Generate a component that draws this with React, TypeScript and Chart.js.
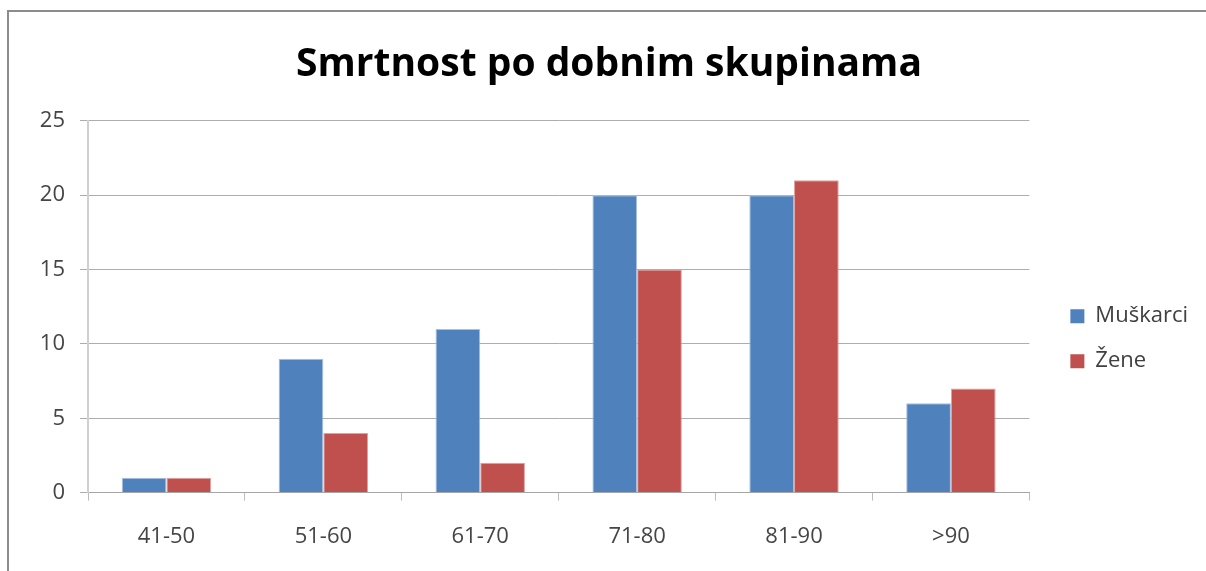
import React, { useEffect, useRef } from "react";
import { Chart, registerables, layouts } from "chart.js";

Chart.register(...registerables);

const categories = ["41-50", "51-60", "61-70", "71-80", "81-90", ">90"];
const muskarci = [1, 9, 11, 20, 20, 6];
const zene = [1, 4, 2, 15, 21, 7];
const yTicks = [0, 5, 10, 15, 20, 25];

const FONT = "'Open Sans', 'Liberation Sans', sans-serif";

const spacerPlugin = {
  id: "legendSpacer",
  beforeInit(chart: any) {
    const box: any = {
      position: "right",
      weight: 500,
      fullSize: false,
      options: {},
      left: 0,
      top: 0,
      right: 0,
      bottom: 0,
      width: 0,
      height: 0,
      isHorizontal() {
        return false;
      },
      update(_w: number, h: number) {
        this.width = 18;
        this.height = h;
      },
      getPadding() {
        return { left: 0, right: 0, top: 0, bottom: 0 };
      },
      draw() {},
    };
    layouts.addBox(chart, box);
  },
};

export default function App() {
  const ref = useRef<HTMLCanvasElement | null>(null);

  useEffect(() => {
    if (!ref.current) return;
    const chart = new Chart(ref.current, {
      type: "bar",
      data: {
        labels: categories,
        datasets: [
          {
            label: "Muškarci",
            data: muskarci,
            backgroundColor: "#4F81BD",
            borderColor: "#A9C0DE",
            borderWidth: 1,
            categoryPercentage: 0.57,
            barPercentage: 1,
          },
          {
            label: "Žene",
            data: zene,
            backgroundColor: "#C0504D",
            borderColor: "#DDA2A0",
            borderWidth: 1,
            categoryPercentage: 0.57,
            barPercentage: 1,
          },
        ],
      },
      plugins: [spacerPlugin],
      options: {
        responsive: false,
        animation: false,
        layout: { padding: { left: 20, right: 8, top: 0, bottom: -2 } },
        plugins: {
          title: {
            display: true,
            text: "Smrtnost po dobnim skupinama",
            color: "#000000",
            font: { family: FONT, size: 39, weight: "bold" },
            padding: { top: 41, bottom: 33 },
          },
          legend: {
            position: "right",
            title: {
              display: true,
              text: "",
              font: { size: 12 },
              padding: { top: 90, bottom: 0 },
            },
            labels: {
              boxWidth: 14,
              boxHeight: 14,
              padding: 23,
              color: "#404040",
              font: { family: FONT, size: 22 },
              generateLabels: (c: any) =>
                c.data.datasets.map((ds: any, i: number) => ({
                  text: ds.label,
                  fillStyle: ds.backgroundColor,
                  strokeStyle: ds.backgroundColor,
                  lineWidth: 0,
                  hidden: false,
                  datasetIndex: i,
                  fontColor: "#404040",
                })),
            },
          },
          tooltip: { enabled: false },
        },
        scales: {
          x: {
            grid: {
              display: true,
              drawOnChartArea: false,
              drawTicks: true,
              tickLength: 8,
              offset: true,
              color: "#BDBDBD",
            },
            border: { display: true, color: "#A6A6A6", width: 1 },
            ticks: {
              color: "#454545",
              padding: 23,
              font: { family: FONT, size: 22 },
            },
          },
          y: {
            min: 0,
            max: 25,
            afterBuildTicks: (axis: any) => {
              axis.ticks = yTicks.map((v) => ({ value: v }));
            },
            afterFit: (axis: any) => {
              axis.width = 68;
            },
            grid: {
              color: "#ADADAD",
              drawTicks: true,
              tickLength: 8,
            },
            border: { display: true, color: "#D0D0D0", width: 2 },
            ticks: {
              color: "#454545",
              padding: 15,
              font: { family: FONT, size: 22 },
            },
          },
        },
      },
    });
    return () => chart.destroy();
  }, []);

  return (
    <div
      style={{
        position: "fixed",
        left: 0,
        top: 0,
        width: 1206,
        height: 571,
        background: "#ffffff",
        overflow: "hidden",
      }}
    >
      <div
        style={{
          position: "absolute",
          left: 7,
          top: 10,
          width: 1300,
          height: 700,
          borderLeft: "2px solid #8C8C8C",
          borderTop: "2px solid #8C8C8C",
        }}
      />
      <canvas
        ref={ref}
        width={1206}
        height={571}
        style={{ position: "absolute", left: 0, top: 0 }}
      />
    </div>
  );
}
